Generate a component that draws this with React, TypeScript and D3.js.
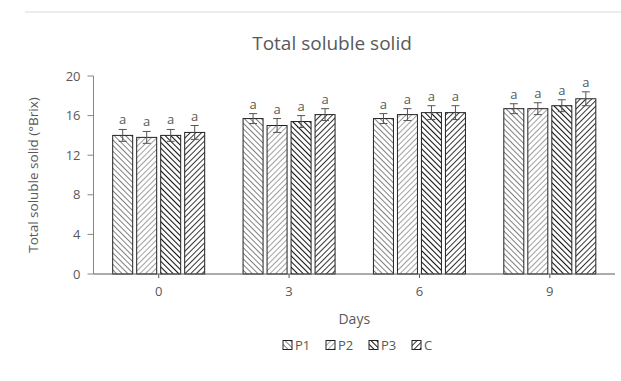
import * as d3 from 'd3';

const days = ['0', '3', '6', '9'];
const seriesNames = ['P1', 'P2', 'P3', 'C'];
const p1 = [14.0, 15.7, 15.7, 16.7];
const p2 = [13.8, 15.0, 16.1, 16.7];
const p3 = [14.0, 15.4, 16.3, 17.0];
const cc = [14.3, 16.1, 16.3, 17.7];
const p1Err = [0.6, 0.5, 0.5, 0.5];
const p2Err = [0.6, 0.7, 0.6, 0.6];
const p3Err = [0.6, 0.6, 0.7, 0.6];
const ccErr = [0.7, 0.6, 0.7, 0.7];
const letters = ['a', 'a', 'a', 'a'];
const yTicks = [0, 4, 8, 12, 16, 20];

const values = [p1, p2, p3, cc];
const errors = [p1Err, p2Err, p3Err, ccErr];

// hatch styles per series
const hatch = [
  { id: 'hP1', angle: -45, stroke: '#555', width: 1.5 },
  { id: 'hP2', angle: 45, stroke: '#808080', width: 1.5 },
  { id: 'hP3', angle: -45, stroke: '#111', width: 2.1 },
  { id: 'hC', angle: 45, stroke: '#2a2a2a', width: 1.9 },
];

const W = 621;
const H = 381;
const margin = { top: 76, right: 6, bottom: 107, left: 93.5 };
const txt = '#595959';
const font = '"Open Sans", "Noto Sans", sans-serif';

export default function App() {
  const innerW = W - margin.left - margin.right;
  const innerH = H - margin.top - margin.bottom;

  const x = d3.scaleBand().domain(days).range([0, innerW]).paddingInner(0).paddingOuter(0);
  const y = d3.scaleLinear().domain([0, 20]).range([innerH, 0]);
  const step = 24;
  const barW = 20;

  return (
    <svg width={W} height={H} style={{ position: 'absolute', left: 0, top: 0, background: '#fff' }}>
      <defs>
        {hatch.map((h) => (
          <pattern
            key={h.id}
            id={h.id}
            patternUnits="userSpaceOnUse"
            width={4}
            height={4}
            patternTransform={`rotate(${h.angle})`}
          >
            <rect width={4} height={4} fill="#fff" />
            <line x1={0} y1={0} x2={0} y2={4} stroke={h.stroke} strokeWidth={h.width} />
          </pattern>
        ))}
      </defs>

      <line x1={25} x2={W} y1={12} y2={12} stroke="#d9d9d9" />

      <text x={332} y={50} textAnchor="middle" fill={txt} fontSize={19} fontFamily={font}>
        Total soluble solid
      </text>

      <g transform={`translate(${margin.left},${margin.top})`}>
        {/* Y axis */}
        <line x1={0} x2={0} y1={0} y2={innerH} stroke="#868686" />
        {yTicks.map((t) => (
          <g key={t} transform={`translate(0,${y(t)})`}>
            <line x1={-6} x2={0} stroke="#868686" />
            <text x={-13} dy="0.35em" textAnchor="end" fill={txt} fontSize={13} fontFamily={font}>
              {t}
            </text>
          </g>
        ))}
        <text
          transform={`translate(-56,${innerH / 2}) rotate(-90)`}
          textAnchor="middle"
          fill={txt}
          fontSize={13.5}
          fontFamily={font}
        >
          Total soluble solid (°Brix)
        </text>

        {/* Bars */}
        {days.map((d, i) => {
          const cx = (x(d) ?? 0) + x.bandwidth() / 2;
          return (
            <g key={d}>
              {values.map((vals, s) => {
                const bx = cx - (step * 4 - (step - barW)) / 2 + s * step;
                const v = vals[i];
                const e = errors[s][i];
                const mid = bx + barW / 2;
                return (
                  <g key={s}>
                    <rect
                      x={bx}
                      y={y(v)}
                      width={barW}
                      height={innerH - y(v)}
                      fill={`url(#${hatch[s].id})`}
                      stroke="#222"
                      strokeWidth={1}
                    />
                    <line x1={mid} x2={mid} y1={y(v - e)} y2={y(v + e)} stroke="#555" />
                    <line x1={mid - 4} x2={mid + 4} y1={y(v + e)} y2={y(v + e)} stroke="#555" />
                    <line x1={mid - 4} x2={mid + 4} y1={y(v - e)} y2={y(v - e)} stroke="#555" />
                    <text
                      x={mid}
                      y={y(v + e) - 5}
                      textAnchor="middle"
                      fill={txt}
                      fontSize={13}
                      fontFamily={font}
                    >
                      {letters[i]}
                    </text>
                  </g>
                );
              })}
            </g>
          );
        })}

        {/* X axis */}
        <g transform={`translate(0,${innerH})`}>
          <line x1={0} x2={innerW} stroke="#595959" />
          {days.map((d) => {
            const cx = (x(d) ?? 0) + x.bandwidth() / 2;
            return (
              <g key={d} transform={`translate(${cx},0)`}>
                <line y1={0} y2={4} stroke="#595959" />
                <text y={22} textAnchor="middle" fill={txt} fontSize={13} fontFamily={font}>
                  {d}
                </text>
              </g>
            );
          })}
          <text x={innerW / 2} y={50} textAnchor="middle" fill={txt} fontSize={14} fontFamily={font}>
            Days
          </text>
        </g>
      </g>

      {/* Legend */}
      <g transform="translate(283,345)">
        {seriesNames.map((n, s) => (
          <g key={n} transform={`translate(${s * 43},0)`}>
            <rect x={0} y={-4.5} width={9} height={9} fill={`url(#${hatch[s].id})`} stroke="#222" />
            <text x={12} dy="0.35em" fill={txt} fontSize={13} fontFamily={font}>
              {n}
            </text>
          </g>
        ))}
      </g>
    </svg>
  );
}
